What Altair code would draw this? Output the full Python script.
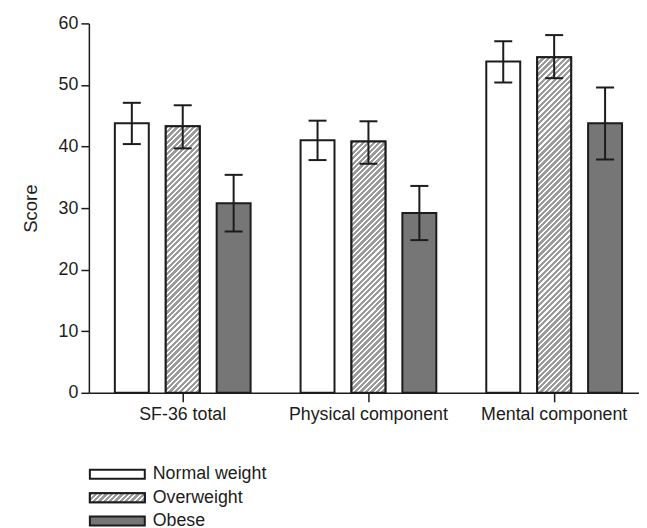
import altair as alt
import pandas as pd

measures = ["SF-36 total", "Physical component", "Mental component"]
groups = ["Normal weight", "Overweight", "Obese"]

mean_normal = [43.8, 41.0, 53.8]
mean_over = [43.3, 40.8, 54.5]
mean_obese = [30.8, 29.2, 43.8]

lo_normal = [40.4, 37.8, 50.4]
lo_over = [39.7, 37.2, 51.1]
lo_obese = [26.2, 24.8, 37.9]

hi_normal = [47.1, 44.2, 57.1]
hi_over = [46.7, 44.1, 58.1]
hi_obese = [35.4, 33.6, 49.6]

y_ticks = [0, 10, 20, 30, 40, 50, 60]

rows = []
for g, means, los, his in [
    ("Normal weight", mean_normal, lo_normal, hi_normal),
    ("Overweight", mean_over, lo_over, hi_over),
    ("Obese", mean_obese, lo_obese, hi_obese),
]:
    for m, v, lo, hi in zip(measures, means, los, his):
        rows.append({"measure": m, "group": g, "value": v, "lo": lo, "hi": hi})
df = pd.DataFrame(rows)

FONT = "Liberation Sans, Arial, Helvetica, sans-serif"
INK = "#1c1c1c"
PLOT_W, PLOT_H = 551, 370
YMAX = 60
BAR_W = 34


def hatch(w, h, period=5.5, gray_frac=0.6, c1="#9b9b9b", c2="#ffffff"):
    r = h / w
    a = (1 + r) / (1 + r * r)
    n = max(1, round((w + h) / period))
    stops = []
    for k in range(n):
        t0 = round(k / n, 5)
        t1 = round((k + gray_frac) / n, 5)
        t2 = round((k + 1) / n, 5)
        stops += [
            {"offset": t0, "color": c1},
            {"offset": t1, "color": c1},
            {"offset": t1, "color": c2},
            {"offset": t2, "color": c2},
        ]
    return {"gradient": "linear", "x1": 0, "y1": 0, "x2": a, "y2": a * r, "stops": stops}


fill_scale = alt.Scale(domain=groups, range=["#ffffff", "#9b9b9b", "#767676"])

x_enc = alt.X(
    "measure:N",
    sort=measures,
    scale=alt.Scale(paddingInner=0.269, paddingOuter=0.1156, align=0.605),
    axis=alt.Axis(title=None, labelAngle=0, tickSize=9, labelPadding=4),
)
xo_enc = alt.XOffset(
    "group:N", sort=groups, scale=alt.Scale(paddingInner=1 / 3, paddingOuter=0)
)
y_axis = alt.Axis(title="Score", values=y_ticks, tickSize=8, labelPadding=3, titlePadding=18)
y_scale = alt.Scale(domain=[0, YMAX], nice=False)

base = alt.Chart(df).encode(x=x_enc, xOffset=xo_enc)

bars = base.mark_bar(stroke=INK, strokeWidth=2, opacity=1).encode(
    y=alt.Y("value:Q", scale=y_scale, axis=y_axis),
    fill=alt.Fill("group:N", scale=fill_scale, legend=None),
)

hatch_layers = []
for m, v in zip(measures, mean_over):
    hpx = v * PLOT_H / YMAX
    hatch_layers.append(
        base.transform_filter(
            (alt.datum.group == "Overweight") & (alt.datum.measure == m)
        )
        .mark_bar(fill=hatch(BAR_W, hpx), stroke=INK, strokeWidth=2, opacity=1)
        .encode(y=alt.Y("value:Q", scale=y_scale, axis=y_axis))
    )

err = base.mark_rule(color=INK, strokeWidth=2).encode(
    y=alt.Y("lo:Q", scale=y_scale, axis=y_axis), y2="hi:Q"
)
cap_lo = base.mark_tick(color=INK, size=18, thickness=2, orient="horizontal", opacity=1).encode(
    y=alt.Y("lo:Q", scale=y_scale, axis=y_axis)
)
cap_hi = base.mark_tick(color=INK, size=18, thickness=2, orient="horizontal", opacity=1).encode(
    y=alt.Y("hi:Q", scale=y_scale, axis=y_axis)
)

main = alt.layer(bars, *hatch_layers, err, cap_lo, cap_hi).properties(
    width=PLOT_W, height=PLOT_H
)

# legend built from the group list
leg_df = pd.DataFrame({"group": groups})
leg_y = alt.Y(
    "group:N", sort=groups, axis=None, scale=alt.Scale(paddingInner=0.617, paddingOuter=0)
)
leg_base = alt.Chart(leg_df).encode(y=leg_y)
sw = leg_base.mark_bar(stroke=INK, strokeWidth=2, opacity=1).encode(
    x=alt.value(1), x2=alt.value(56),
    fill=alt.Fill("group:N", scale=fill_scale, legend=None),
)
sw_hatch = (
    leg_base.transform_filter(alt.datum.group == "Overweight")
    .mark_bar(fill=hatch(55, 9), stroke=INK, strokeWidth=2, opacity=1)
    .encode(x=alt.value(1), x2=alt.value(56))
)
sw_text = leg_base.mark_text(
    align="left", baseline="middle", font=FONT, fontSize=17.8, color=INK
).encode(x=alt.value(64), text="group:N")
legend = alt.layer(sw, sw_hatch, sw_text).properties(width=PLOT_W, height=56)

chart = (
    alt.vconcat(main, legend, spacing=77, bounds="flush")
    .properties(padding={"left": 13, "top": 6, "right": 0, "bottom": 0})
    .configure_view(stroke=None)
    .configure_axis(
        grid=False,
        domainColor=INK,
        domainWidth=1.5,
        tickColor=INK,
        tickWidth=1.5,
        labelFont=FONT,
        labelFontSize=17.8,
        labelColor=INK,
        titleFont=FONT,
        titleFontSize=18.5,
        titleFontWeight="normal",
        titleColor=INK,
    )
)

chart.save("out.html", embed_options={"renderer": "svg", "actions": False})
